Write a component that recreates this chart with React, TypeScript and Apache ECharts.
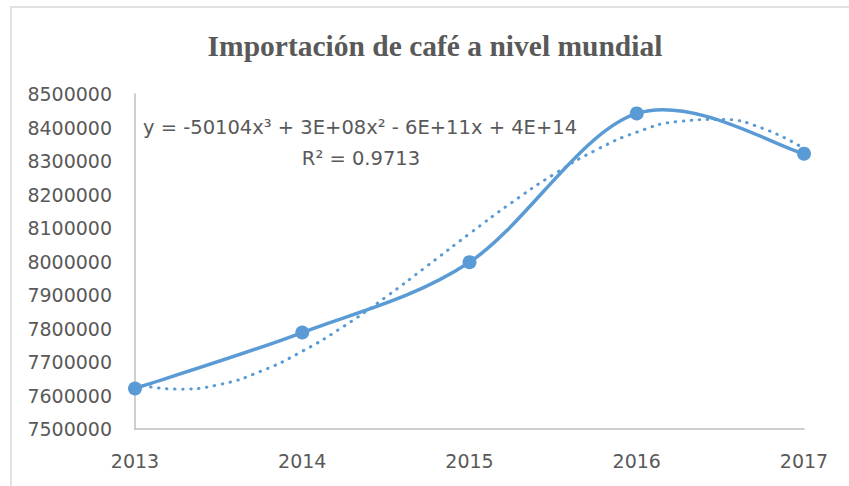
import React, { useEffect, useRef } from "react";
import * as echarts from "echarts";

const years = [2013, 2014, 2015, 2016, 2017];
const imports = [7621000, 7788000, 7998000, 8442000, 8322000];

// dotted cubic trendline at quarter-year steps
const trendYears = [
  2013, 2013.25, 2013.5, 2013.75, 2014, 2014.25, 2014.5, 2014.75, 2015,
  2015.25, 2015.5, 2015.75, 2016, 2016.25, 2016.5, 2016.75, 2017,
];
const trendValues = [
  7635000, 7619000, 7632000, 7672000, 7732000, 7807000, 7894000, 7988000,
  8083000, 8175000, 8259000, 8331000, 8386000, 8418000, 8424000, 8398000,
  8337000,
];

const titleText = "Importación de café a nivel mundial";
const equationText = "y = -50104x³ + 3E+08x² - 6E+11x + 4E+14";
const r2Text = "R² = 0.9713";

const yMin = 7500000;
const yMax = 8500000;
const yStep = 100000;

const BLUE = "#5b9bd5";
const TEXT = "#595959";
const AXIS = "#bfbfbf";
const FONT = "DejaVu Sans";

// Excel-like smoothed line: cubic Bezier with Catmull-Rom tangents (1/6)
function smoothPath(pts: number[][]): string {
  const n = pts.length;
  let d = `M${pts[0][0]},${pts[0][1]}`;
  for (let i = 0; i < n - 1; i++) {
    const p0 = pts[Math.max(0, i - 1)];
    const p1 = pts[i];
    const p2 = pts[i + 1];
    const p3 = pts[Math.min(n - 1, i + 2)];
    const c1x = p1[0] + (p2[0] - p0[0]) / 6;
    const c1y = p1[1] + (p2[1] - p0[1]) / 6;
    const c2x = p2[0] - (p3[0] - p1[0]) / 6;
    const c2y = p2[1] - (p3[1] - p1[1]) / 6;
    d += ` C${c1x},${c1y} ${c2x},${c2y} ${p2[0]},${p2[1]}`;
  }
  return d;
}

export default function App() {
  const ref = useRef<HTMLDivElement>(null);
  useEffect(() => {
    document.body.style.margin = "0";
    if (!ref.current) return;
    const chart = echarts.init(ref.current, null, { renderer: "svg" });
    chart.setOption({
      animation: false,
      backgroundColor: "#ffffff",
      title: {
        text: titleText,
        left: 430,
        top: 26,
        textAlign: "center",
        textStyle: {
          fontFamily: "Liberation Serif",
          fontWeight: "bold",
          fontSize: 29.5,
          color: TEXT,
        },
      },
      grid: { left: 135, right: 45, top: 94, bottom: 57, containLabel: false },
      xAxis: {
        type: "value",
        min: 2013,
        max: 2017,
        interval: 1,
        axisLine: { show: true, lineStyle: { color: AXIS, width: 1.5 } },
        axisTick: { show: false },
        splitLine: { show: false },
        axisLabel: {
          color: TEXT,
          fontFamily: FONT,
          fontSize: 19,
          margin: 22,
          formatter: (v: number) => String(v),
        },
      },
      yAxis: {
        type: "value",
        min: yMin,
        max: yMax,
        interval: yStep,
        axisLine: { show: true, lineStyle: { color: AXIS, width: 1.5 } },
        axisTick: { show: false },
        splitLine: { show: false },
        axisLabel: {
          color: TEXT,
          fontFamily: FONT,
          fontSize: 19,
          margin: 23,
          formatter: (v: number) => String(v),
        },
      },
      graphic: [
        {
          type: "rect",
          shape: { x: 11, y: 7, width: 900, height: 600 },
          style: { fill: "none", stroke: "#d9d9d9", lineWidth: 1.5 },
          silent: true,
          z: -10,
        },
        {
          type: "text",
          x: 360,
          y: 127,
          style: {
            text: equationText,
            fontFamily: FONT,
            fontSize: 19.5,
            fill: TEXT,
            align: "center",
            verticalAlign: "middle",
          },
        },
        {
          type: "text",
          x: 361,
          y: 158,
          style: {
            text: r2Text,
            fontFamily: FONT,
            fontSize: 19.5,
            fill: TEXT,
            align: "center",
            verticalAlign: "middle",
          },
        },
      ],
      series: [
        {
          type: "line",
          data: trendYears.map((y, i) => [y, trendValues[i]]),
          smooth: true,
          symbol: "none",
          lineStyle: {
            color: BLUE,
            width: 3,
            type: [0.5, 7.5],
            cap: "round",
          },
          z: 2,
        },
        {
          type: "custom",
          data: years.map((y, i) => [y, imports[i]]),
          clip: false,
          z: 3,
          renderItem: (params: any, api: any) => {
            if (params.dataIndex !== 0) return null;
            const pts = years.map((y, i) => api.coord([y, imports[i]]));
            return {
              type: "path",
              shape: { pathData: smoothPath(pts) },
              style: {
                fill: "none",
                stroke: BLUE,
                lineWidth: 3.5,
                lineCap: "round",
                lineJoin: "round",
              },
            };
          },
        },
        {
          type: "scatter",
          data: years.map((y, i) => [y, imports[i]]),
          symbol: "circle",
          symbolSize: 14,
          itemStyle: { color: BLUE, opacity: 1 },
          z: 4,
        },
      ],
    });
    return () => chart.dispose();
  }, []);
  return (
    <div
      ref={ref}
      style={{ position: "absolute", left: 0, top: 0, width: 849, height: 486 }}
    />
  );
}
